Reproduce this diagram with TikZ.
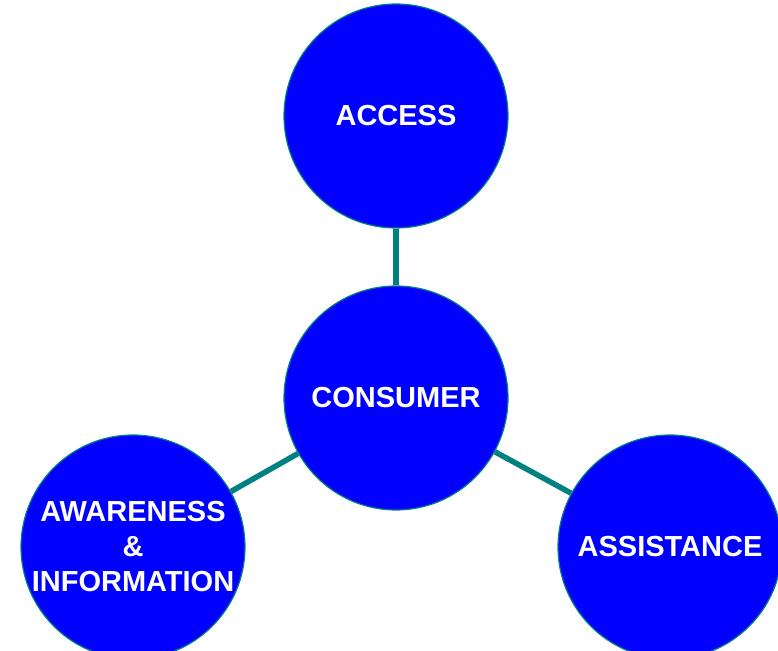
\documentclass[tikz,border=0pt]{standalone}
\usepackage{fontspec}
\setmainfont{Liberation Sans}
\usepackage{tikz}
\usetikzlibrary{positioning}
\definecolor{ringblue}{RGB}{0,0,255}
\definecolor{linkteal}{RGB}{0,128,128}
\tikzset{
  topic/.style={circle, fill=ringblue, draw=linkteal, line width=1.2pt,
    minimum size=224pt, inner sep=0pt, text=white, align=center,
    font=\fontsize{29}{35}\selectfont\bfseries},
  link/.style={draw=linkteal, line width=5.5pt}
}
\begin{document}
\begin{tikzpicture}[x=1pt,y=1pt]
            \useasboundingbox (0,0) rectangle (778,650);
            \clip (0,0) rectangle (778,650);
            \node[topic] (consumer) at (396,252) {CONSUMER};
            \node[topic] (access) at (396,534) {ACCESS};
            \node[topic] (awareness) at (133,103) {AWARENESS\\\&\\INFORMATION};
            \node[topic] (assistance) at (670,103) {ASSISTANCE};
            \draw[link] (consumer)--(access);
            \draw[link] (consumer)--(awareness);
            \draw[link] (consumer)--(assistance);
        \end{tikzpicture}
\end{document}
